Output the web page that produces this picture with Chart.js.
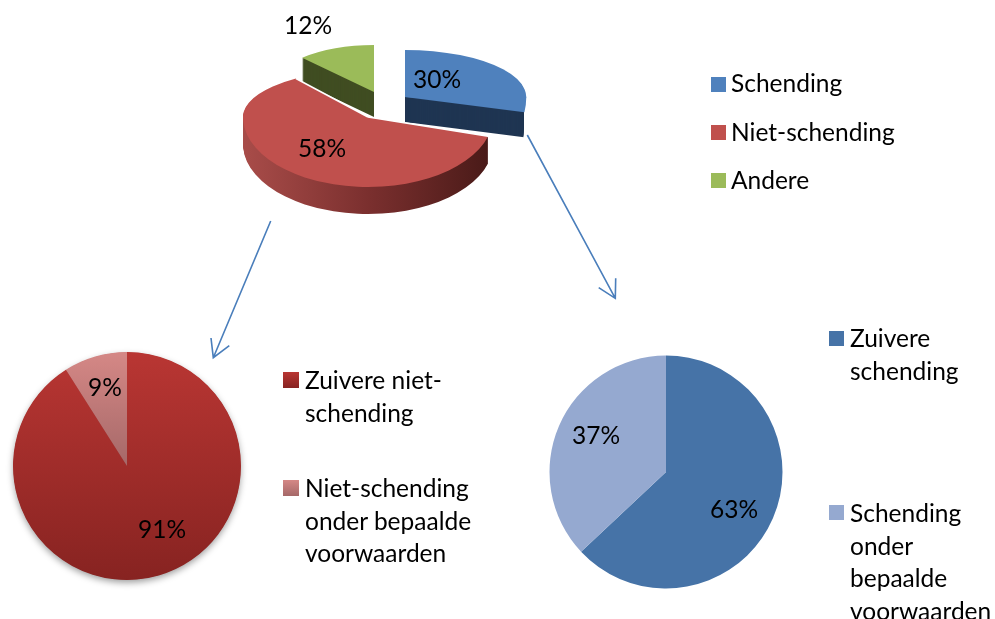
<!DOCTYPE html>
<html><head><meta charset="utf-8">
<script src="https://cdn.jsdelivr.net/npm/chart.js@4"></script>
<style>
html,body{margin:0;padding:0;background:#fff;width:995px;height:619px;overflow:hidden;font-family:Lato,"Open Sans",sans-serif;color:#000}
.c{position:absolute}
.sw{position:absolute}
.t{position:absolute;font-size:24.5px;line-height:32.7px;white-space:pre}
svg{position:absolute;left:0;top:0}
</style></head><body>
<div class="c" style="left:100px;top:0;width:536px;height:234px"><canvas id="top"></canvas></div>
<div class="c" style="left:0;top:339px;width:254px;height:254px"><canvas id="left"></canvas></div>
<div class="c" style="left:536px;top:342px;width:260px;height:260px"><canvas id="right"></canvas></div>
<svg width="995" height="619" fill="none" stroke="#4A7EBB" stroke-width="1.6">
<path d="M270.7 221L213.3 357.7M211 338L213.3 357.7L229.3 345.7"/>
<path d="M527.3 135L615.3 298.3M615.7 278.3L615.3 298.3L598.7 287.7"/>
</svg>
<div id="legends"></div>
<script>
const topCategories = ["Schending", "Niet-schending", "Andere"];
const topValues = [30, 58, 12];
const leftCategories = ["Zuivere niet-\nschending", "Niet-schending\nonder bepaalde\nvoorwaarden"];
const leftValues = [91, 9];
const rightCategories = ["Zuivere\nschending", "Schending\nonder\nbepaalde\nvoorwaarden"];
const rightValues = [63, 37];

Chart.defaults.animation = false;
const baseOpts = r => ({responsive:false,maintainAspectRatio:false,animation:false,
  layout:{padding:0},radius:r,plugins:{legend:{display:false},tooltip:{enabled:false}},events:[]});
function size(id){const p=document.getElementById(id).parentElement;const c=document.getElementById(id);c.width=parseInt(p.style.width);c.height=parseInt(p.style.height);return c;}
function label(ctx,txt,x,y){ctx.save();ctx.shadowColor='transparent';ctx.fillStyle='#000';ctx.font='24.5px Lato';ctx.textAlign='center';ctx.textBaseline='alphabetic';ctx.fillText(txt,x,y);ctx.restore();}

/* ---- top 3-D exploded pie: perspective look per slice ---- */
const kUpper = 0.377;
const kLower = [0.70, 0.56, 0.377];
const kX = [0.97, 1, 0.84];
const tiltUpper = [0, 8, 0];
const tiltLower = [-8, -2, 0];
const shift = [[37,-20],[0,0],[6,-25]];
const depth = [25, 27, 25];
const topLabels = [[337,88],[222,157],[208,34]];
const topColors = ['#4F81BD','#C0504D','#9BBB59'];
const wallColors = ['#1F3552', null, '#404D22'];
const topCanvas = size('top');
const wallGrad = topCanvas.getContext('2d').createLinearGradient(143,0,388,0);
wallGrad.addColorStop(0,'#A84C49');wallGrad.addColorStop(0.5,'#7A2F2E');wallGrad.addColorStop(1,'#491A18');
wallColors[1] = wallGrad;
const squash3d = {id:'squash3d',
  beforeDatasetDraw(chart){
    const ctx=chart.ctx, arcs=chart.getDatasetMeta(0).data;
    for(const i of [2,0,1]){
      const el=arcs[i], cx=el.x, cy=el.y, o=el.options;
      const place=(upper,dy)=>{
        const k=upper?kUpper:kLower[i], t=upper?tiltUpper[i]:tiltLower[i];
        ctx.translate(shift[i][0]+cx,shift[i][1]+dy+cy);
        ctx.scale(kX[i],k);
        ctx.rotate(t*Math.PI/180);
        ctx.translate(-cx,-cy);
      };
      const paint=(fill,dy)=>{
        const sv=[o.backgroundColor,o.borderWidth];
        o.backgroundColor=fill;o.borderWidth=0;
        const mid=cy+dy+shift[i][1];
        ctx.save();ctx.beginPath();ctx.rect(0,-500,2000,mid+500.4);ctx.clip();
        place(true,dy);el.draw(ctx);ctx.restore();
        ctx.save();ctx.beginPath();ctx.rect(0,mid,2000,1000);ctx.clip();
        place(false,dy);el.draw(ctx);ctx.restore();
        o.backgroundColor=sv[0];o.borderWidth=sv[1];
      };
      // walls: the blue slice's wall stops at its outer corner
      ctx.save();
      if(i===0){
        const a=el.endAngle+tiltLower[0]*Math.PI/180;
        const rightX=cx+shift[0][0]+kX[0]*el.outerRadius*Math.cos(a);
        ctx.beginPath();ctx.rect(0,0,rightX-1,2000);ctx.clip();
      }
      for(let d=depth[i];d>=1;d--) paint(wallColors[i],d);
      ctx.restore();
      paint(topColors[i],0);
      if(i===1){ // white seams along the cut edges of the large slice
        [[el.startAngle,false],[el.endAngle,true]].forEach(([a,up])=>{
          ctx.save();ctx.beginPath();place(up,0);
          ctx.moveTo(cx,cy);ctx.lineTo(cx+el.outerRadius*Math.cos(a),cy+el.outerRadius*Math.sin(a));
          ctx.restore();
          ctx.save();ctx.strokeStyle='#fff';ctx.lineWidth=1.6;ctx.stroke();ctx.restore();
        });
      }
    }
    topLabels.forEach((p,i)=>label(ctx,topValues[i]+'%',p[0],p[1]));
    return false;
  }};
new Chart(topCanvas,{type:'pie',data:{labels:topCategories,datasets:[{data:topValues,backgroundColor:topColors,borderWidth:0}]},
  options:baseOpts(125),plugins:[squash3d]});

/* ---- lower left pie ---- */
const leftCanvas=size('left'), lctx=leftCanvas.getContext('2d');
const g1=lctx.createLinearGradient(0,13,0,241);g1.addColorStop(0,'#B93633');g1.addColorStop(1,'#872321');
const g2=lctx.createLinearGradient(0,13,0,127);g2.addColorStop(0,'#D58886');g2.addColorStop(1,'#A56868');
const leftLabels=[[162,538-339],[105,396-339]];
new Chart(leftCanvas,{type:'pie',data:{labels:leftCategories,datasets:[{data:leftValues,backgroundColor:[g1,g2],borderWidth:0}]},
  options:baseOpts(114),plugins:[{id:'sh',
    beforeDatasetDraw(c){const el=c.getDatasetMeta(0).data[0],x=c.ctx;x.save();x.shadowColor='rgba(0,0,0,.4)';x.shadowBlur=7;x.shadowOffsetY=3;x.fillStyle='#9b2b29';x.beginPath();x.arc(el.x,el.y,el.outerRadius-.5,0,Math.PI*2);x.fill();x.restore();},
    afterDraw(c){leftLabels.forEach((p,i)=>label(c.ctx,leftValues[i]+'%',p[0],p[1]));}}]});

/* ---- lower right pie ---- */
const rightCanvas=size('right');
const rightLabels=[[734-536,518-342],[596-536,444-342]];
new Chart(rightCanvas,{type:'pie',data:{labels:rightCategories,datasets:[{data:rightValues,backgroundColor:['#4673A7','#95A9D0'],borderWidth:0}]},
  options:baseOpts(116.5),plugins:[{id:'lb',afterDraw(c){rightLabels.forEach((p,i)=>label(c.ctx,rightValues[i]+'%',p[0],p[1]));}}]});

/* ---- legends ---- */
const legendItems=[
 [topCategories[0],711,77,15,'#4F81BD',731,67],
 [topCategories[1],711,125,15,'#C0504D',731,116],
 [topCategories[2],711,173,15,'#9BBB59',731,164],
 [leftCategories[0],283,372,16,'linear-gradient(#B93633,#872321)',305,364],
 [leftCategories[1],283,480,16,'linear-gradient(#D58886,#A56868)',305,472],
 [rightCategories[0],829,331,15,'#4673A7',850,322],
 [rightCategories[1],829,505,15,'#95A9D0',850,497]
];
const host=document.getElementById('legends');
legendItems.forEach(([txt,sx,sy,ss,col,tx,ty])=>{
  const s=document.createElement('div');s.className='sw';s.style.cssText=`left:${sx}px;top:${sy}px;width:${ss}px;height:${ss}px;background:${col}`;host.appendChild(s);
  const t=document.createElement('div');t.className='t';t.style.cssText=`left:${tx}px;top:${ty}px`;t.textContent=txt;host.appendChild(t);
});
</script>
</body></html>
